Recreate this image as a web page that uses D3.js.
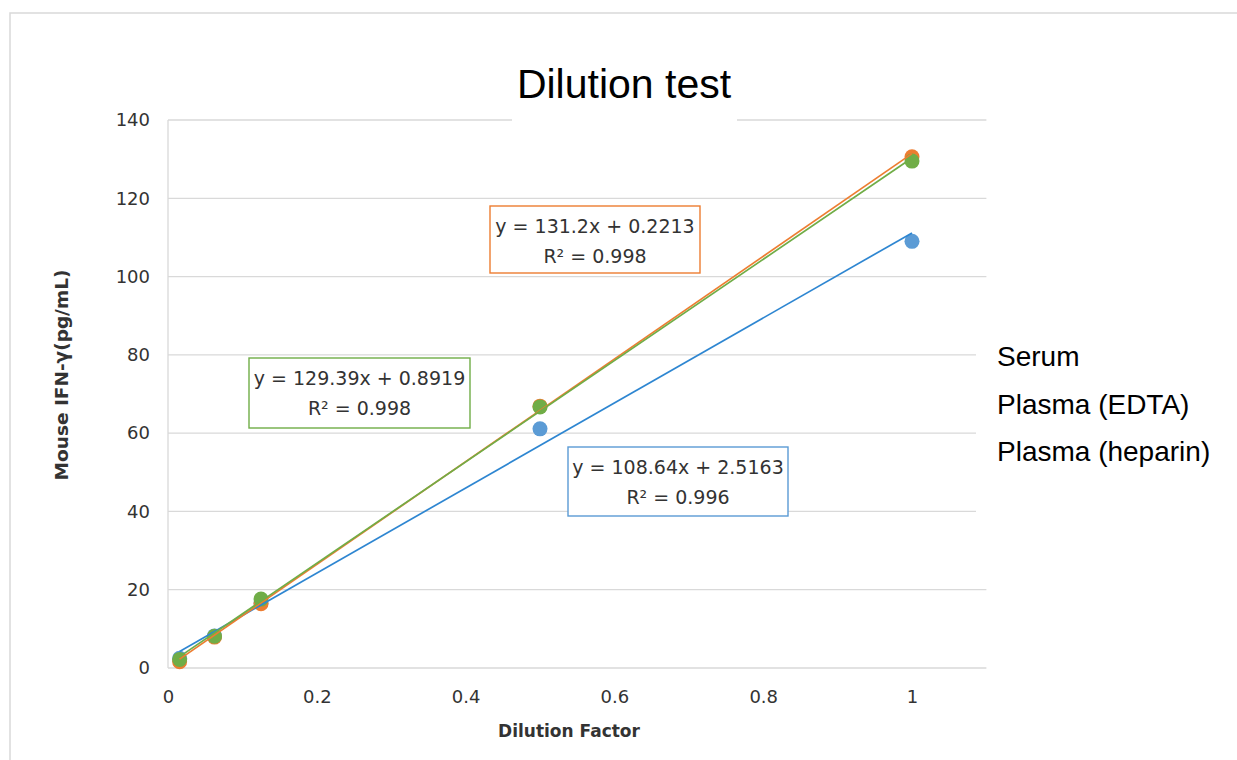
<!DOCTYPE html>
<html><head><meta charset="utf-8">
<script src="https://cdn.jsdelivr.net/npm/d3@7"></script>
<style>html,body{margin:0;padding:0;background:#fff;}svg{display:block;}</style>
</head><body>
<svg id="chart" width="1237" height="760"></svg>
<script>
// ---- data ----
const dilutions = [1/64, 1/16, 1/8, 1/2, 1];
const serum   = [2.5, 8.2, 16.6, 61.1, 109.0];
const edta    = [1.6, 7.9, 16.4, 66.9, 130.6];
const heparin = [2.2, 8.1, 17.6, 66.7, 129.5];
const seriesNames = ["Serum", "Plasma (EDTA)", "Plasma (heparin)"];
const slopes = [108.64, 131.2, 129.39];
const intercepts = [2.5163, 0.2213, 0.8919];
const eqLabels = ["y = 108.64x + 2.5163", "y = 131.2x + 0.2213", "y = 129.39x + 0.8919"];
const r2Labels = ["R\u00B2 = 0.996", "R\u00B2 = 0.998", "R\u00B2 = 0.998"];
const xTicks = [0, 0.2, 0.4, 0.6, 0.8, 1];
const yTicks = [0, 20, 40, 60, 80, 100, 120, 140];

// ---- styles ----
const markerColors = ["#5B9BD5", "#ED7D31", "#70AD47"];
const lineColors = ["#2E86D1", "#ED7D31", "#70AD47"];
const boxPos = [ // annotation boxes: [x, y, w, h]
  [568, 447, 220, 69],
  [490, 206, 210, 67],
  [249, 358, 221, 70]
];
const textColor = "#333333";

const svg = d3.select("#chart");
const x = d3.scaleLinear().domain([0, 1.1]).range([168, 986.4]);
const y = d3.scaleLinear().domain([0, 140]).range([668, 120]);

// outer frame
svg.append("path").attr("d", "M10,760 L10,13 L1237,13")
  .attr("fill", "none").attr("stroke", "#d9d9d9").attr("stroke-width", 1.5);

// gridlines
svg.append("g").selectAll("line").data(yTicks).join("line")
  .attr("x1", x(0)).attr("x2", x(1.1))
  .attr("y1", d => y(d)).attr("y2", d => y(d))
  .attr("stroke", "#d9d9d9").attr("stroke-width", 1.3);
// left axis line
svg.append("line").attr("x1", x(0)).attr("x2", x(0)).attr("y1", y(0)).attr("y2", y(140))
  .attr("stroke", "#d9d9d9").attr("stroke-width", 1.3);

// axis tick labels via d3 axes
const yAxis = svg.append("g").attr("transform", `translate(${x(0)},0)`)
  .call(d3.axisLeft(y).tickValues(yTicks).tickSize(0).tickPadding(18).tickFormat(d3.format("d")));
yAxis.select(".domain").remove();
yAxis.selectAll("text").attr("font-family", "DejaVu Sans").attr("font-size", 18).attr("fill", textColor);

const xAxis = svg.append("g").attr("transform", `translate(0,${y(0)})`)
  .call(d3.axisBottom(x).tickValues(xTicks).tickSize(0).tickPadding(22).tickFormat(d => d3.format("")(d)));
xAxis.select(".domain").remove();
xAxis.selectAll("text").attr("font-family", "DejaVu Sans").attr("font-size", 18).attr("fill", textColor);

// axis titles
svg.append("text").attr("x", 569).attr("y", 737).attr("text-anchor", "middle")
  .attr("font-family", "DejaVu Sans").attr("font-weight", "bold").attr("font-size", 17)
  .attr("fill", textColor).text("Dilution Factor");
svg.append("text").attr("transform", "translate(68,375) rotate(-90)").attr("text-anchor", "middle")
  .attr("font-family", "DejaVu Sans").attr("font-weight", "bold").attr("font-size", 18.5)
  .attr("fill", textColor).text("Mouse IFN-\u03B3(pg/mL)");

// title background & title
svg.append("rect").attr("x", 512).attr("y", 55).attr("width", 225).attr("height", 70).attr("fill", "#fff");
svg.append("text").attr("x", 624).attr("y", 98).attr("text-anchor", "middle")
  .attr("font-family", "Liberation Sans, Arial").attr("font-size", 41).attr("fill", "#000")
  .text("Dilution test");

// legend background & text
svg.append("rect").attr("x", 976).attr("y", 295).attr("width", 261).attr("height", 280).attr("fill", "#fff");
svg.append("g").selectAll("text").data(seriesNames).join("text")
  .attr("x", 997).attr("y", (d, i) => 366 + i * 47.5)
  .attr("font-family", "Liberation Sans, Arial").attr("font-size", 28).attr("fill", "#000")
  .text(d => d);

// markers
const allSeries = [serum, edta, heparin];
allSeries.forEach((vals, si) => {
  svg.append("g").selectAll("circle").data(vals).join("circle")
    .attr("cx", (d, i) => x(dilutions[i])).attr("cy", d => y(d)).attr("r", 7.5)
    .attr("fill", markerColors[si]);
});

// trendlines
const xMin = d3.min(dilutions), xMax = d3.max(dilutions);
slopes.forEach((m, si) => {
  const b = intercepts[si];
  svg.append("line")
    .attr("x1", x(xMin)).attr("y1", y(m * xMin + b))
    .attr("x2", x(xMax)).attr("y2", y(m * xMax + b))
    .attr("stroke", lineColors[si]).attr("stroke-width", 1.7);
});

// annotation boxes
boxPos.forEach((bp, si) => {
  const g = svg.append("g");
  g.append("rect").attr("x", bp[0]).attr("y", bp[1]).attr("width", bp[2]).attr("height", bp[3])
    .attr("fill", "#fff").attr("stroke", markerColors[si]).attr("stroke-width", 1.4);
  g.append("text").attr("x", bp[0] + bp[2] / 2).attr("y", bp[1] + 27).attr("text-anchor", "middle")
    .attr("font-family", "DejaVu Sans").attr("font-size", 19).attr("fill", textColor).text(eqLabels[si]);
  g.append("text").attr("x", bp[0] + bp[2] / 2).attr("y", bp[1] + 57).attr("text-anchor", "middle")
    .attr("font-family", "DejaVu Sans").attr("font-size", 19).attr("fill", textColor).text(r2Labels[si]);
});
</script>
</body></html>
